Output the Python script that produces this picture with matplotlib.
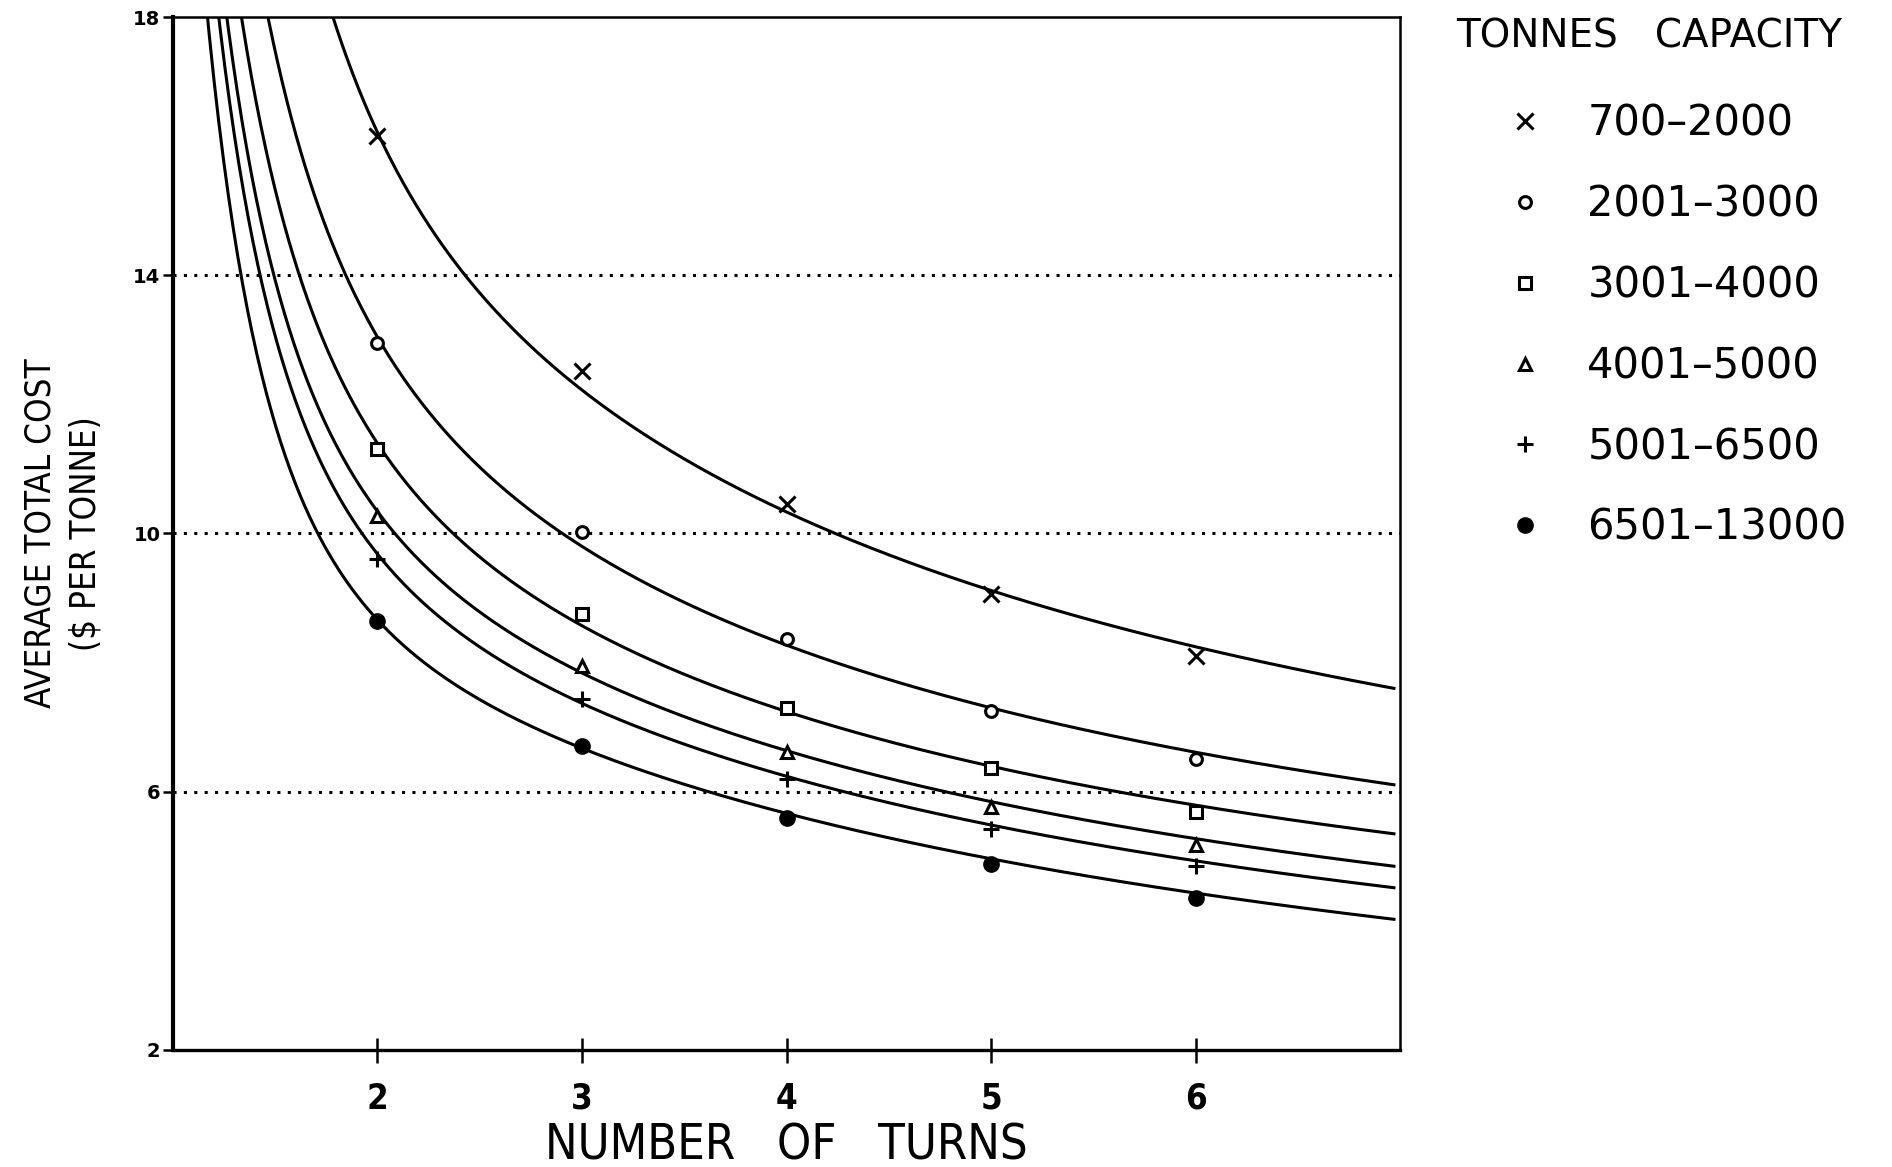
import numpy as np
import matplotlib.pyplot as plt

turns = [2, 3, 4, 5, 6]
capacity_labels = ["700–2000", "2001–3000", "3001–4000",
                   "4001–5000", "5001–6500", "6501–13000"]

# observed average total cost ($ per tonne) at 2..6 turns
cost_700_2000 = [16.16, 12.51, 10.45, 9.07, 8.10]
cost_2001_3000 = [12.95, 10.02, 8.36, 7.25, 6.51]
cost_3001_4000 = [11.31, 8.76, 7.30, 6.36, 5.69]
cost_4001_5000 = [10.27, 7.94, 6.62, 5.77, 5.18]
cost_5001_6500 = [9.60, 7.44, 6.19, 5.43, 4.85]
cost_6501_13000 = [8.65, 6.71, 5.59, 4.88, 4.36]

fit_x_700_2000 = [1.79, 1.98, 2.45, 2.89, 4.0, 4.21, 5.0, 5.34, 6.0, 6.96]
fit_y_700_2000 = [18.0, 16.2, 14.0, 12.54, 10.34, 10.0, 9.1, 8.76, 8.23, 7.66]
fit_x_2001_3000 = [1.465, 1.847, 2.0, 2.937, 4.0, 5.0, 5.34, 6.0, 6.96]
fit_y_2001_3000 = [18.0, 14.0, 13.0, 10.0, 8.24, 7.25, 7.04, 6.62, 6.14]
fit_x_3001_4000 = [1.335, 1.62, 1.717, 2.0, 2.40, 2.89, 4.0, 5.0, 5.34, 6.0, 6.96]
fit_y_3001_4000 = [18.0, 14.0, 13.16, 11.28, 10.0, 8.8, 7.2, 6.39, 6.15, 5.79, 5.38]
fit_x_4001_5000 = [1.265, 1.489, 1.563, 2.0, 2.09, 3.0, 4.0, 5.0, 6.0, 6.96]
fit_y_4001_5000 = [18.0, 14.0, 13.16, 10.45, 10.0, 7.85, 6.55, 5.82, 5.28, 4.90]
fit_x_5001_6500 = [1.226, 1.424, 1.481, 1.95, 2.0, 3.0, 4.0, 5.0, 6.0, 6.96]
fit_y_5001_6500 = [18.0, 14.0, 13.16, 10.0, 9.73, 7.38, 6.13, 5.44, 4.95, 4.58]
fit_x_6501_13000 = [1.172, 1.327, 1.376, 1.725, 2.0, 3.0, 4.0, 5.0, 6.0, 6.96]
fit_y_6501_13000 = [18.0, 14.0, 13.16, 10.0, 8.77, 6.70, 5.51, 4.88, 4.46, 4.13]

observed = [cost_700_2000, cost_2001_3000, cost_3001_4000,
            cost_4001_5000, cost_5001_6500, cost_6501_13000]
fit_xs = [fit_x_700_2000, fit_x_2001_3000, fit_x_3001_4000,
          fit_x_4001_5000, fit_x_5001_6500, fit_x_6501_13000]
fit_ys = [fit_y_700_2000, fit_y_2001_3000, fit_y_3001_4000,
          fit_y_4001_5000, fit_y_5001_6500, fit_y_6501_13000]

marker_styles = [
    dict(marker="x", markersize=11, markeredgewidth=2.2, color="black"),
    dict(marker="o", markersize=8.5, markeredgewidth=2.2, markerfacecolor="white", color="black"),
    dict(marker="s", markersize=8, markeredgewidth=2.2, markerfacecolor="white", color="black"),
    dict(marker="^", markersize=9, markeredgewidth=2.2, markerfacecolor="white", color="black"),
    dict(marker="+", markersize=12, markeredgewidth=2.2, color="black"),
    dict(marker="o", markersize=11, markeredgewidth=1, color="black"),
]

fig = plt.figure(figsize=(18.92, 11.67), dpi=100)
ax = fig.add_axes([0.0914, 0.1003, 0.6486, 0.8851])

for yg in [6, 10, 14]:
    ax.axhline(yg, color="black", lw=2.2, linestyle=(0, (1, 2.4)), zorder=1)

handles = []
for obs, fx, fy, ms, lab in zip(observed, fit_xs, fit_ys, marker_styles, capacity_labels):
    coef = np.polyfit(1.0 / np.array(fx), np.array(fy), 3)
    xx = np.linspace(min(fx) - 0.03, 6.97, 500)
    ax.plot(xx, np.polyval(coef, 1.0 / xx), color="black", lw=2.2, zorder=2)
    h, = ax.plot(turns, obs, linestyle="none", zorder=3, label=lab, **ms)
    handles.append(h)

ax.set_xlim(1, 7)
ax.set_ylim(2, 18)
ax.set_xticks(turns)
ax.set_yticks([2, 6, 10, 14, 18])

for side, lw in [("left", 3.0), ("bottom", 2.4), ("top", 1.8), ("right", 1.8)]:
    ax.spines[side].set_linewidth(lw)

ax.tick_params(axis="x", direction="inout", length=18, width=1.8, pad=14)
ax.tick_params(axis="y", direction="out", length=7, width=1.8, pad=2)
for t in ax.get_xticklabels():
    t.set_fontfamily("DejaVu Sans")
    t.set_fontstretch("condensed")
    t.set_fontsize(25)
    t.set_fontweight("bold")
for t in ax.get_yticklabels():
    t.set_fontfamily("DejaVu Sans")
    t.set_fontsize(14)
    t.set_fontweight("heavy")

ax.set_xlabel("NUMBER   OF   TURNS", fontsize=35, family="DejaVu Sans",
              fontstretch="condensed", labelpad=4)
ax.set_ylabel("AVERAGE TOTAL COST\n($ PER TONNE)", fontsize=25, family="DejaVu Sans",
              fontstretch="condensed", linespacing=1.4, labelpad=22)

fig.text(1456 / 1892, 1 - 36 / 1167, "TONNES   CAPACITY", fontsize=28,
         family="DejaVu Sans", ha="left", va="center")
fig.legend(handles=handles, loc="upper left", bbox_to_anchor=(1504 / 1892, 1 - 103 / 1167),
           frameon=False, prop={"family": "DejaVu Sans", "size": 30},
           borderpad=0, borderaxespad=0, handlelength=1.0, handletextpad=1.0,
           labelspacing=0.93, markerscale=1.0, numpoints=1)

fig.savefig("out.png", dpi=100, facecolor="white")
